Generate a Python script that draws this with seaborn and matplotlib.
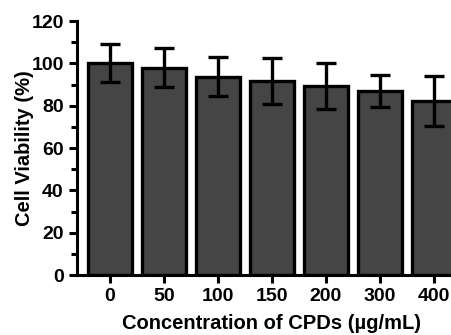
import matplotlib
matplotlib.use("Agg")
import matplotlib.pyplot as plt
import seaborn as sns
import pandas as pd
import numpy as np
from matplotlib.ticker import MultipleLocator

concentrations = ["0", "50", "100", "150", "200", "300", "400"]
viability = [100.0, 98.0, 93.7, 91.6, 89.4, 87.0, 82.3]
errors = [9.0, 9.3, 9.2, 11.0, 11.0, 7.5, 11.8]

df = pd.DataFrame({"conc": concentrations, "viab": viability, "err": errors})

sns.set_style("ticks")
plt.rcParams["font.family"] = ["Liberation Sans", "DejaVu Sans"]
plt.rcParams["font.weight"] = "bold"
plt.rcParams["text.color"] = "black"
plt.rcParams["axes.labelcolor"] = "black"
plt.rcParams["xtick.color"] = "black"
plt.rcParams["ytick.color"] = "black"
plt.rcParams["axes.edgecolor"] = "black"

fig = plt.figure(figsize=(4.52, 3.35), dpi=100)
ax = fig.add_axes([0.170, 0.179, 0.861, 0.758])

sns.barplot(data=df, x="conc", y="viab", color="#454545", saturation=1,
            width=0.81, edgecolor="black", linewidth=2.4, errorbar=None, ax=ax)
ax.errorbar(np.arange(len(df)), df["viab"], yerr=df["err"], fmt="none",
            ecolor="black", elinewidth=2.4, capsize=7, capthick=2.4, zorder=5)

ax.set_xlim(-0.61, 6.6)
ax.set_ylim(0, 120)
ax.yaxis.set_major_locator(MultipleLocator(20))
ax.yaxis.set_minor_locator(MultipleLocator(10))
sns.despine(ax=ax)
for s in ["left", "bottom"]:
    ax.spines[s].set_linewidth(2.2)
ax.tick_params(axis="both", which="major", width=2.2, length=6, labelsize=14)
ax.tick_params(axis="y", which="minor", width=2.2, length=4)
for lbl in ax.get_xticklabels() + ax.get_yticklabels():
    lbl.set_fontweight("bold")
ax.set_xlabel("Concentration of CPDs (µg/mL)", fontsize=14.5, fontweight="bold", labelpad=6)
ax.set_ylabel("Cell Viability (%)", fontsize=14.5, fontweight="bold", labelpad=-2)

fig.savefig("out.png", dpi=100)
